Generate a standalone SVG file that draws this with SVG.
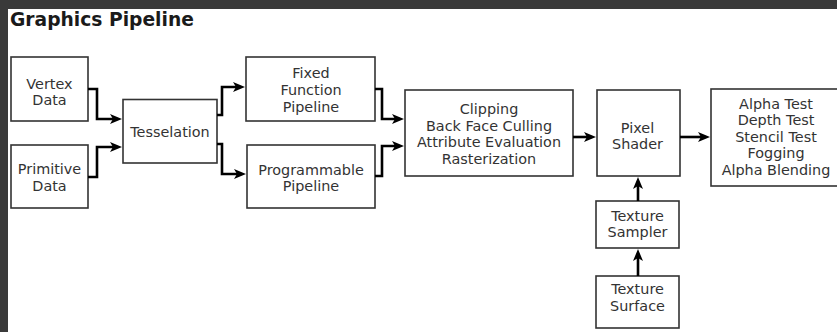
<svg xmlns="http://www.w3.org/2000/svg" width="837" height="332" viewBox="0 0 837 332">
<style>
.box{fill:#fff;stroke:#333;stroke-width:1.6}
.t{font-family:"DejaVu Sans",Verdana,sans-serif;font-size:14.4px;fill:#333;text-anchor:middle}
.title{font-family:"DejaVu Sans",Verdana,sans-serif;font-size:18.7px;font-weight:bold;fill:#1a1a1a}
.c{fill:none;stroke:#000;stroke-width:2.6;stroke-linejoin:miter}
</style>
<defs>
<marker id="ah" markerUnits="userSpaceOnUse" markerWidth="13" markerHeight="11" refX="7.5" refY="5" orient="auto">
<path d="M0,0 L12,5 L0,10 L3,5 z" fill="#000"/>
</marker>
</defs>
<rect x="0" y="0" width="837" height="332" fill="#3a3a3a"/>
<rect x="8" y="9" width="829" height="323" fill="#fff"/>
<text class="title" x="10" y="26">Graphics Pipeline</text>

<g id="vertex"><rect class="box" x="11" y="57" width="77" height="64"/><text class="t" x="49.5" y="89">Vertex</text><text class="t" x="49.5" y="105">Data</text></g>
<g id="primitive"><rect class="box" x="11" y="145" width="77" height="63"/><text class="t" x="49.5" y="174">Primitive</text><text class="t" x="49.5" y="191">Data</text></g>
<g id="tesselation"><rect class="box" x="123" y="99.5" width="94" height="63.5"/><text class="t" x="170" y="137">Tesselation</text></g>
<g id="fixed"><rect class="box" x="246" y="57" width="129" height="64"/><text class="t" x="311" y="78">Fixed</text><text class="t" x="311" y="95">Function</text><text class="t" x="311" y="112">Pipeline</text></g>
<g id="programmable"><rect class="box" x="247" y="145" width="128" height="63"/><text class="t" x="311" y="175">Programmable</text><text class="t" x="311" y="191">Pipeline</text></g>
<g id="clipping"><rect class="box" x="405" y="90" width="168" height="86"/><text class="t" x="489" y="114">Clipping</text><text class="t" x="489" y="130.5">Back Face Culling</text><text class="t" x="489" y="147">Attribute Evaluation</text><text class="t" x="489" y="163.5">Rasterization</text></g>
<g id="pixel"><rect class="box" x="597" y="90" width="83" height="86"/><text class="t" x="637.5" y="133">Pixel</text><text class="t" x="637.5" y="149">Shader</text></g>
<g id="output"><rect class="box" x="711" y="89" width="135" height="97"/><text class="t" x="776" y="108.5">Alpha Test</text><text class="t" x="776" y="125">Depth Test</text><text class="t" x="776" y="141.5">Stencil Test</text><text class="t" x="776" y="158">Fogging</text><text class="t" x="776" y="174.5">Alpha Blending</text></g>
<g id="sampler"><rect class="box" x="596" y="201" width="83" height="47"/><text class="t" x="637.5" y="221">Texture</text><text class="t" x="637.5" y="237">Sampler</text></g>
<g id="surface"><rect class="box" x="596" y="276" width="83" height="52"/><text class="t" x="637.5" y="294">Texture</text><text class="t" x="637.5" y="311">Surface</text></g>

<g id="connectors">
<path class="c" marker-end="url(#ah)" d="M88,89 H97 V119 H117.5"/>
<path class="c" marker-end="url(#ah)" d="M88,177 H97 V147 H117.5"/>
<path class="c" marker-end="url(#ah)" d="M217,115 H222 V87 H240.5"/>
<path class="c" marker-end="url(#ah)" d="M217,144 H222 V174 H241.5"/>
<path class="c" marker-end="url(#ah)" d="M375,89 H382 V119 H399.5"/>
<path class="c" marker-end="url(#ah)" d="M375,176 H382 V146 H399.5"/>
<path class="c" marker-end="url(#ah)" d="M573,137 H591.5"/>
<path class="c" marker-end="url(#ah)" d="M680,137 H705.5"/>
<path class="c" marker-end="url(#ah)" d="M638,201 V181.5"/>
<path class="c" marker-end="url(#ah)" d="M638,276 V253.5"/>
</g>
</svg>
